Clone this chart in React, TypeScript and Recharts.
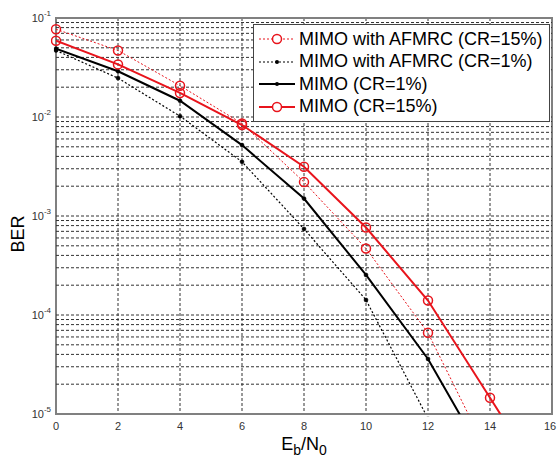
import React from "react";
import { LineChart, Line, XAxis, YAxis, CartesianGrid, Legend, ReferenceArea, ReferenceLine } from "recharts";

// Eb/N0 (dB)
const ebn0 = [0, 2, 4, 6, 8, 10, 12, 14, 16];

// BER values (null = not plotted)
const afmrc15 = [0.077, 0.047, 0.0207, 0.0086, 0.0022, 4.7e-4, 6.6e-5, 3.6e-6, null];
const afmrc1 = [0.047, 0.0247, 0.0102, 0.00353, 7.4e-4, 1.42e-4, 9e-6, null, null];
const mimo1 = [0.049, 0.029, 0.0146, 0.0052, 0.0015, 2.54e-4, 3.6e-5, 2.9e-6, null];
const mimo15 = [0.059, 0.034, 0.0175, 0.0083, 0.00315, 7.65e-4, 1.4e-4, 1.46e-5, 1.5e-6];

const xTicks = [0, 2, 4, 6, 8, 10, 12, 14, 16];
const xGrid = [2, 4, 6, 8, 10, 12, 14];
const yTicks = [1e-5, 1e-4, 1e-3, 1e-2, 1e-1];
const yExponents = ["-5", "-4", "-3", "-2", "-1"];
const yMinor = [
  2e-5, 3e-5, 4e-5, 5e-5, 6e-5, 7e-5, 8e-5, 9e-5,
  1e-4, 2e-4, 3e-4, 4e-4, 5e-4, 6e-4, 7e-4, 8e-4, 9e-4,
  1e-3, 2e-3, 3e-3, 4e-3, 5e-3, 6e-3, 7e-3, 8e-3, 9e-3,
  1e-2, 2e-2, 3e-2, 4e-2, 5e-2, 6e-2, 7e-2, 8e-2, 9e-2,
];

const chartData = ebn0.map((x, i) => ({
  x,
  afmrc15: afmrc15[i],
  afmrc1: afmrc1[i],
  mimo1: mimo1[i],
  mimo15: mimo15[i],
}));

const FONT = "'Liberation Sans', Arial, Helvetica, sans-serif";
const RED = "#e8141c";

const legendItems = [
  { label: "MIMO with AFMRC (CR=15%)", color: RED, dash: "2 2", width: 1, marker: "circle" },
  { label: "MIMO with AFMRC (CR=1%)", color: "#000", dash: "2 2", width: 1.2, marker: "dot" },
  { label: "MIMO (CR=1%)", color: "#000", dash: undefined, width: 2, marker: "dot" },
  { label: "MIMO (CR=15%)", color: RED, dash: undefined, width: 2, marker: "circle" },
];

function XTick(props: any) {
  const { x, y, payload } = props;
  return (
    <text x={x} y={y + 14} textAnchor="middle" fontSize={11} fill="#333" fontFamily={FONT}>
      {payload.value}
    </text>
  );
}

function YTick(props: any) {
  const { x, y, payload } = props;
  const idx = yTicks.findIndex((t) => Math.abs(Math.log10(t) - Math.log10(payload.value)) < 1e-6);
  return (
    <text x={x - 3} y={y + 4} textAnchor="end" fontSize={11} fill="#333" fontFamily={FONT}>
      10
      <tspan dy={-6} fontSize={8}>
        {yExponents[idx]}
      </tspan>
    </text>
  );
}

function renderLegend() {
  return (
    <div
      style={{
        border: "1px solid #444",
        background: "#fff",
        padding: "3px 6px 3px 4px",
        fontFamily: FONT,
        fontSize: 18,
        color: "#000",
      }}
    >
      {legendItems.map((it) => (
        <div key={it.label} style={{ display: "flex", alignItems: "center", height: 22.5, whiteSpace: "nowrap" }}>
          <svg width={38} height={22} style={{ marginRight: 3 }}>
            <line x1={1} y1={11} x2={37} y2={11} stroke={it.color} strokeWidth={it.width} strokeDasharray={it.dash} />
            {it.marker === "circle" ? (
              <circle cx={19} cy={11} r={4.5} fill="#fff" stroke={it.color} strokeWidth={1.5} />
            ) : (
              <circle cx={19} cy={11} r={2} fill="#000" />
            )}
          </svg>
          <span>{it.label}</span>
        </div>
      ))}
    </div>
  );
}

function XLabel(props: any) {
  const { viewBox } = props;
  const cx = viewBox.x + viewBox.width / 2;
  return (
    <text x={cx} y={450} textAnchor="middle" fontSize={18} fontFamily={FONT} fill="#000">
      E<tspan dy={5} fontSize={14}>b</tspan>
      <tspan dy={-5}>/N</tspan>
      <tspan dy={5} fontSize={14}>0</tspan>
    </text>
  );
}

function YLabel() {
  return (
    <text x={24} y={234} transform="rotate(-90 24 234)" textAnchor="middle" fontSize={18} fontFamily={FONT} fill="#000">
      BER
    </text>
  );
}

const redDot = { r: 4.5, fill: "none", stroke: RED, strokeWidth: 1.5, strokeDasharray: "0", clipDot: false };
const blackDot = { r: 2, fill: "#000", stroke: "#000", strokeWidth: 0.5, strokeDasharray: "0", clipDot: false };

export default function App() {
  return (
    <div style={{ position: "absolute", left: 0, top: 0, width: 558, height: 457, background: "#fff" }}>
      <LineChart width={558} height={457} data={chartData} margin={{ top: 18, right: 6, left: 0, bottom: 0 }}>
        <CartesianGrid
          horizontal={false}
          verticalValues={xGrid}
          stroke="#333"
          strokeDasharray="3 2"
          strokeWidth={1}
        />
        {yMinor.map((v) => (
          <ReferenceLine key={v} y={v} stroke="#333" strokeDasharray="3 2" strokeWidth={1} />
        ))}
        <XAxis
          dataKey="x"
          type="number"
          domain={[0, 16]}
          ticks={xTicks}
          height={43}
          tickSize={0}
          tickLine={false}
          axisLine={false}
          tick={<XTick />}
          label={<XLabel />}
          allowDataOverflow
        />
        <YAxis
          scale="log"
          type="number"
          domain={[1e-5, 1e-1]}
          ticks={yTicks}
          width={56}
          tickSize={0}
          tickLine={false}
          axisLine={false}
          tick={<YTick />}
          label={<YLabel />}
          allowDataOverflow
        />
        <Line
          dataKey="afmrc15"
          stroke={RED}
          strokeWidth={1}
          strokeDasharray="2 2"
          dot={redDot}
          isAnimationActive={false}
        />
        <Line
          dataKey="afmrc1"
          stroke="#000"
          strokeWidth={1.2}
          strokeDasharray="2 2"
          dot={blackDot}
          isAnimationActive={false}
        />
        <Line dataKey="mimo1" stroke="#000" strokeWidth={2} dot={blackDot} isAnimationActive={false} />
        <Line dataKey="mimo15" stroke={RED} strokeWidth={2} dot={redDot} isAnimationActive={false} />
        <ReferenceArea
          x1={0}
          x2={16}
          y1={1e-5}
          y2={1e-1}
          fill="none"
          stroke="#808080"
          strokeWidth={2}
          ifOverflow="visible"
        />
        <Legend
          content={renderLegend}
          layout="horizontal"
          verticalAlign="middle"
          align="center"
          wrapperStyle={{ left: 253, top: 24, width: "auto" }}
        />
      </LineChart>
    </div>
  );
}
